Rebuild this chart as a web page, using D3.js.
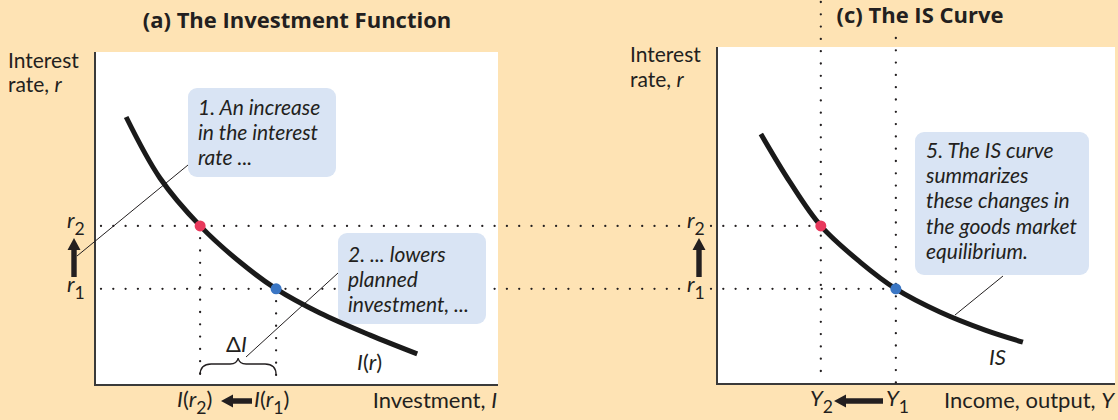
<!DOCTYPE html>
<meta charset="utf-8">
<style>
  body { margin: 0; background: #fee3b4; }
  svg text { font-family: Lato, "Open Sans", sans-serif; fill: #231f20; }
  .it { font-style: italic; }
  .title { font-family: "Open Sans", Lato, sans-serif; font-weight: bold; }
</style>
<svg width="1118" height="420"></svg>
<script src="https://cdn.jsdelivr.net/npm/d3@7"></script>
<script>

// interest-rate levels and the matching investment / income values (0-100 scale)
var rLevels = {r1: 28.7, r2: 47.5};
var investAt = {r1: 44.8, r2: 25.9};
var incomeAt = {r1: 44.8, r2: 25.9};

// investment function I(r): [investment, interest rate]
var investCurve = [[7.5, 80.0], [15.9, 61.8], [25.9, 47.5], [35.8, 36.7],
                   [44.8, 28.7], [55.7, 21.5], [68.2, 14.9], [79.9, 9.3]];

// IS curve: [income, interest rate]
var isCurve = [[10.8, 74.9], [18.1, 60.6], [25.9, 47.5], [35.8, 36.7],
               [44.8, 28.7], [55.9, 21.8], [67.3, 16.4], [76.8, 12.8]];

var callout1 = ["1. An increase", "in the interest", "rate ..."];
var callout2 = ["2. ... lowers", "planned", "investment, ..."];
var callout5 = ["5. The IS curve", "summarizes", "these changes in", "the goods market", "equilibrium."];

var svg = d3.select("svg");

var rScale = d3.scaleLinear().domain([0, 100]).range([385, 50]);
var iScale = d3.scaleLinear().domain([0, 100]).range([96, 498]);
var yScale = d3.scaleLinear().domain([0, 100]).range([718, 1115]);

var ink = "#231f20",
    boxFill = "#d9e4f4",
    red = "#e8395c",
    blue = "#3a76c4";

/*
 * Panel backgrounds and axes.
 */
svg.append("rect").attr("x", 96).attr("y", 52).attr("width", 402).attr("height", 333).attr("fill", "#fff");
svg.append("rect").attr("x", 718).attr("y", 47).attr("width", 397).attr("height", 337).attr("fill", "#fff");

function axisLines(x0, x1, yTop, yBot) {
  svg.append("path")
      .attr("d", "M" + x0 + "," + yTop + "V" + yBot + "H" + x1)
      .attr("fill", "none")
      .attr("stroke", "#3a3a3a")
      .attr("stroke-width", 2);
}
axisLines(95, 498, 52, 385);
axisLines(717, 1115, 47, 384);

/*
 * Dotted guide lines.
 */
function dotted(x0, y0, x1, y1) {
  svg.append("line")
      .attr("x1", x0).attr("y1", y0).attr("x2", x1).attr("y2", y1)
      .attr("stroke", ink)
      .attr("stroke-width", 2.3)
      .attr("stroke-linecap", "round")
      .attr("stroke-dasharray", "0,12.3");
}
["r2", "r1"].forEach(function(k) {
  var yy = rScale(rLevels[k]);
  dotted(101, yy, 683, yy);
  dotted(711, yy, yScale(incomeAt[k]), yy);
  dotted(iScale(investAt[k]), yy, iScale(investAt[k]), 384);
});
dotted(yScale(incomeAt.r2), 2, yScale(incomeAt.r2), 383);
dotted(yScale(incomeAt.r1), 38, yScale(incomeAt.r1), 383);

/*
 * Callout boxes.
 */
function callout(x, y, w, h, lines, tx, ty) {
  svg.append("rect")
      .attr("x", x).attr("y", y).attr("width", w).attr("height", h)
      .attr("rx", 9).attr("fill", boxFill);
  svg.append("text")
      .attr("class", "it")
      .attr("font-size", 21)
      .selectAll("tspan")
      .data(lines)
      .enter().append("tspan")
      .attr("x", tx)
      .attr("y", function(d, i) { return ty + i * 25.2; })
      .text(function(d) { return d; });
}
callout(188, 88, 148, 89, callout1, 198, 115);
callout(338, 233, 148, 91, callout2, 348, 262);
callout(915, 132, 174, 143, callout5, 926, 158);

// leader lines
function leader(x0, y0, x1, y1) {
  svg.append("line")
      .attr("x1", x0).attr("y1", y0).attr("x2", x1).attr("y2", y1)
      .attr("stroke", ink).attr("stroke-width", 1);
}
leader(77, 256, 188, 165);
leader(246, 357, 338, 273);
leader(955, 315, 1003, 276);

/*
 * Curves.
 */
var lineI = d3.line()
    .x(function(d) { return iScale(d[0]); })
    .y(function(d) { return rScale(d[1]); })
    .curve(d3.curveCatmullRom);
var lineIS = d3.line()
    .x(function(d) { return yScale(d[0]); })
    .y(function(d) { return rScale(d[1]); })
    .curve(d3.curveCatmullRom);

svg.append("path").attr("d", lineI(investCurve))
    .attr("fill", "none").attr("stroke", "#1a1a1a").attr("stroke-width", 5);
svg.append("path").attr("d", lineIS(isCurve))
    .attr("fill", "none").attr("stroke", "#1a1a1a").attr("stroke-width", 5);

// equilibrium points
[["r2", red], ["r1", blue]].forEach(function(p) {
  svg.append("circle")
      .attr("cx", iScale(investAt[p[0]])).attr("cy", rScale(rLevels[p[0]]))
      .attr("r", 5.5).attr("fill", p[1]);
  svg.append("circle")
      .attr("cx", yScale(incomeAt[p[0]])).attr("cy", rScale(rLevels[p[0]]))
      .attr("r", 5.5).attr("fill", p[1]);
});

/*
 * Arrows.
 */
function upArrow(x, yTip, yTail) {
  svg.append("path")
      .attr("d", "M" + x + "," + yTip + "L" + (x + 6.5) + "," + (yTip + 12) + "L" + (x + 2.7) + "," + (yTip + 12) +
                 "L" + (x + 2.7) + "," + yTail + "L" + (x - 2.7) + "," + yTail + "L" + (x - 2.7) + "," + (yTip + 12) +
                 "L" + (x - 6.5) + "," + (yTip + 12) + "Z")
      .attr("fill", ink);
}
function leftArrow(xTip, xTail, y) {
  svg.append("path")
      .attr("d", "M" + xTip + "," + y + "L" + (xTip + 12) + "," + (y - 6.5) + "L" + (xTip + 12) + "," + (y - 2.7) +
                 "L" + xTail + "," + (y - 2.7) + "L" + xTail + "," + (y + 2.7) + "L" + (xTip + 12) + "," + (y + 2.7) +
                 "L" + (xTip + 12) + "," + (y + 6.5) + "Z")
      .attr("fill", ink);
}
upArrow(74, 238, 277);
upArrow(699, 238, 277);
leftArrow(221, 252, 401);
leftArrow(834, 883, 401);

// brace for delta I
var bx0 = iScale(investAt.r2), bx1 = iScale(investAt.r1), bm = (bx0 + bx1) / 2;
svg.append("path")
    .attr("d", "M" + bx0 + ",375 Q" + bx0 + ",364 " + (bx0 + 11) + ",364 L" + (bm - 8) + ",364 Q" + (bm - 1) + ",364 " + bm + ",358" +
               " Q" + (bm + 1) + ",364 " + (bm + 8) + ",364 L" + (bx1 - 11) + ",364 Q" + bx1 + ",364 " + bx1 + ",375")
    .attr("fill", "none").attr("stroke", ink).attr("stroke-width", 1.3);

/*
 * Text labels.
 */
function label(x, y, parts, size, anchor) {
  size = size || 22;
  var t = svg.append("text").attr("x", x).attr("y", y)
      .attr("font-size", size)
      .attr("text-anchor", anchor || "start");
  parts.forEach(function(p) {
    var s = t.append("tspan").text(p[0]);
    if (p[1] === "i") s.attr("class", "it");
    if (p[1] === "sub") s.attr("font-size", size * 0.8).attr("dy", 7);
    if (p[1] === "up") s.attr("dy", -7);
  });
  return t;
}

label(297, 28, [["(a) The Investment Function"]], 22, "middle").attr("class", "title");
label(920, 23, [["(c) The IS Curve"]], 22, "middle").attr("class", "title");

label(8, 68, [["Interest"]], 21);
label(8, 92, [["rate, "], ["r", "i"]], 21);
label(630, 62, [["Interest"]], 21);
label(630, 87, [["rate, "], ["r", "i"]], 21);

label(67, 228, [["r", "i"], ["2", "sub"]]);
label(67, 292, [["r", "i"], ["1", "sub"]]);
label(687, 228, [["r", "i"], ["2", "sub"]]);
label(687, 292, [["r", "i"], ["1", "sub"]]);

label(226, 352, [["\u0394"], ["I", "i"]]);
label(357, 370, [["I", "i"], ["("], ["r", "i"], [")"]]);
label(989, 365, [["IS", "i"]]);

label(177, 407, [["I", "i"], ["("], ["r", "i"], ["2", "sub"], [")", "up"]]);
label(254, 407, [["I", "i"], ["("], ["r", "i"], ["1", "sub"], [")", "up"]]);
label(497, 408, [["Investment, "], ["I", "i"]], 22, "end");

label(810, 406, [["Y", "i"], ["2", "sub"]]);
label(886, 406, [["Y", "i"], ["1", "sub"]]);
label(1114, 408, [["Income, output, "], ["Y", "i"]], 22, "end");

</script>
